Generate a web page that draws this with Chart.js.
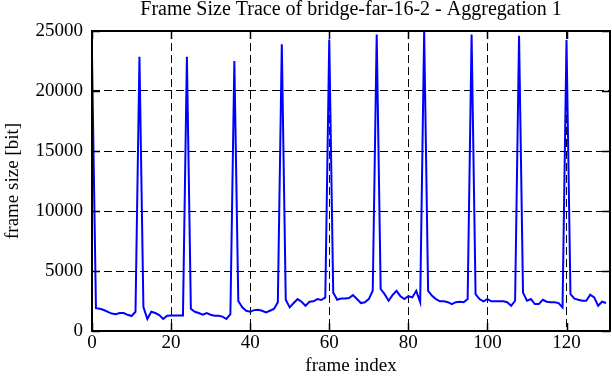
<!DOCTYPE html>
<html>
<head>
<meta charset="utf-8">
<script src="https://cdn.jsdelivr.net/npm/chart.js@4.4.1/dist/chart.umd.min.js"></script>
<style>
  html, body { margin: 0; padding: 0; background: #ffffff; }
  #wrap { width: 612px; height: 382px; position: relative; }
</style>
</head>
<body>
<div id="wrap"><canvas id="c" width="612" height="382"></canvas></div>
<script>
// ---- data ----
const chartTitle = 'Frame Size Trace of bridge-far-16-2 - Aggregation 1';
const xAxisTitle = 'frame index';
const yAxisTitle = 'frame size [bit]';
const xTickValues = [0, 20, 40, 60, 80, 100, 120];
const yTickValues = [0, 5000, 10000, 15000, 20000, 25000];
// frame size per frame index (0 .. 130)
const frameSizes = [
  23000, 1900, 1850, 1750, 1600, 1450, 1400, 1500, 1500, 1350, 1250, 1600,
  22850, 2000, 1000, 1600, 1500, 1330, 1000, 1270, 1300, 1300, 1300, 1300,
  22850, 1850, 1600, 1500, 1360, 1500, 1360, 1270, 1270, 1200, 1000, 1400,
  22500, 2500, 1970, 1690, 1600, 1740, 1770, 1690, 1550, 1690, 1830, 2400,
  23900, 2600, 1970, 2330, 2660, 2440, 2100, 2440, 2470, 2660, 2580, 2800,
  24300, 3200, 2600, 2700, 2700, 2750, 2990, 2660, 2330, 2400, 2660, 3350,
  24700, 3500, 3070, 2520, 2990, 3350, 2900, 2660, 2900, 2800, 3350, 2400,
  24950, 3350, 2930, 2660, 2470, 2470, 2400, 2240, 2400, 2440, 2400, 2660,
  24700, 3070, 2660, 2470, 2660, 2470, 2470, 2470, 2470, 2400, 2100, 2520,
  24600, 3200, 2520, 2660, 2240, 2240, 2600, 2440, 2400, 2400, 2330, 1970,
  24250, 3070, 2700, 2600, 2520, 2520, 3020, 2800, 2100, 2440, 2330
];
const xMin = 0, xMax = 131;
const yMin = 0, yMax = 25000;

const points = frameSizes.map((v, i) => ({ x: i, y: v }));
const FONT = "'Liberation Serif', 'DejaVu Serif', serif";

const frameAndTicks = {
  id: 'frameAndTicks',
  afterDatasetsDraw(chart) {
    const { ctx, chartArea: a, scales } = chart;
    ctx.save();
    ctx.strokeStyle = '#000';
    ctx.lineWidth = 1.5;
    ctx.setLineDash([]);
    const L = 8;
    ctx.beginPath();
    xTickValues.forEach(v => {
      const px = Math.round(scales.x.getPixelForValue(v)) + 0.5;
      ctx.moveTo(px, a.bottom); ctx.lineTo(px, a.bottom - L);
      ctx.moveTo(px, a.top); ctx.lineTo(px, a.top + L);
    });
    yTickValues.forEach(v => {
      const py = Math.round(scales.y.getPixelForValue(v)) + 0.5;
      ctx.moveTo(a.left, py); ctx.lineTo(a.left + L, py);
      ctx.moveTo(a.right, py); ctx.lineTo(a.right - L, py);
    });
    ctx.stroke();
    ctx.lineWidth = 2;
    ctx.strokeRect(a.left, a.top, a.right - a.left, a.bottom - a.top);
    ctx.restore();
  }
};

new Chart(document.getElementById('c'), {
  type: 'line',
  data: {
    datasets: [{
      data: points,
      borderColor: '#0000ff',
      borderWidth: 2,
      pointRadius: 0,
      tension: 0,
      fill: false
    }]
  },
  options: {
    responsive: false,
    animation: false,
    devicePixelRatio: 1,
    layout: { padding: { top: 0, right: 2, bottom: 0, left: 0 } },
    plugins: {
      legend: { display: false },
      tooltip: { enabled: false },
      title: {
        display: true,
        fullSize: false,
        text: chartTitle,
        color: '#000',
        font: { family: FONT, size: 20, weight: 'normal', lineHeight: 1.0 },
        padding: { top: 0, bottom: 11 }
      }
    },
    scales: {
      x: {
        type: 'linear',
        min: xMin, max: xMax,
        afterBuildTicks: s => { s.ticks = xTickValues.map(v => ({ value: v })); },
        afterFit: s => { s.height = 51; },
        ticks: {
          color: '#000',
          font: { family: FONT, size: 19 },
          padding: 1,
          maxRotation: 0,
          autoSkip: false
        },
        grid: { color: '#000', lineWidth: 1, drawTicks: false },
        border: { display: false, dash: [8, 4] },
        title: {
          display: true,
          text: xAxisTitle,
          color: '#000',
          font: { family: FONT, size: 19 },
          padding: { top: 0, bottom: 5 }
        }
      },
      y: {
        type: 'linear',
        min: yMin, max: yMax,
        afterBuildTicks: s => { s.ticks = yTickValues.map(v => ({ value: v })); },
        afterFit: s => { s.width = 92; },
        ticks: {
          color: '#000',
          font: { family: FONT, size: 19 },
          padding: 9,
          autoSkip: false,
          callback: v => String(v)
        },
        grid: { color: '#000', lineWidth: 1, drawTicks: false },
        border: { display: false, dash: [8, 4] },
        title: {
          display: true,
          text: yAxisTitle,
          color: '#000',
          font: { family: FONT, size: 19 },
          padding: { top: 2, bottom: 0 }
        }
      }
    }
  },
  plugins: [frameAndTicks]
});
</script>
</body>
</html>
